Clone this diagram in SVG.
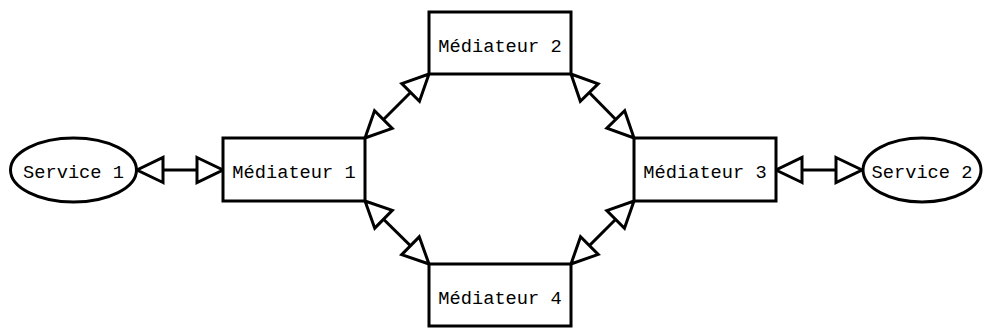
<svg xmlns="http://www.w3.org/2000/svg" width="984" height="328" viewBox="0 0 984 328">
<style>
.node{fill:#fff;stroke:#000;stroke-width:3}
.lbl{font-family:"Liberation Mono","Courier New",monospace;font-size:18.7px;fill:#000;text-anchor:middle}
.edge{fill:none;stroke:#000;stroke-width:3;marker-start:url(#tri);marker-end:url(#tri)}
</style>
<defs>
<marker id="tri" markerUnits="userSpaceOnUse" viewBox="-2 -2 30 30" markerWidth="30" markerHeight="30" refX="26" refY="13" orient="auto-start-reverse" overflow="visible">
<path d="M0,0.5 L26,13 L0,25.5 Z" fill="#fff" stroke="#000" stroke-width="3" stroke-linejoin="miter"/>
</marker>
</defs>
<rect width="984" height="328" fill="#fff"/>
<g id="connectors">
<path class="edge" d="M137,170 L223,170"/>
<path class="edge" d="M365,138 L429,74"/>
<path class="edge" d="M571,74 L634,138"/>
<path class="edge" d="M634,201 L571,264"/>
<path class="edge" d="M429,264 L365,201"/>
<path class="edge" d="M776,170 L862,170"/>
</g>
<g id="service1">
<ellipse class="node" cx="73.5" cy="170" rx="63" ry="32"/>
<text class="lbl" x="73.5" y="178">Service 1</text>
</g>
<g id="mediateur1">
<rect class="node" x="223" y="138" width="142" height="63"/>
<text class="lbl" x="294" y="178">Médiateur 1</text>
</g>
<g id="mediateur2">
<rect class="node" x="429" y="12" width="142" height="62"/>
<text class="lbl" x="500" y="51.5">Médiateur 2</text>
</g>
<g id="mediateur3">
<rect class="node" x="634" y="138" width="142" height="63"/>
<text class="lbl" x="705" y="178">Médiateur 3</text>
</g>
<g id="mediateur4">
<rect class="node" x="429" y="264" width="142" height="62"/>
<text class="lbl" x="500" y="303.5">Médiateur 4</text>
</g>
<g id="service2">
<ellipse class="node" cx="922" cy="170" rx="59" ry="32"/>
<text class="lbl" x="922" y="178">Service 2</text>
</g>
</svg>
